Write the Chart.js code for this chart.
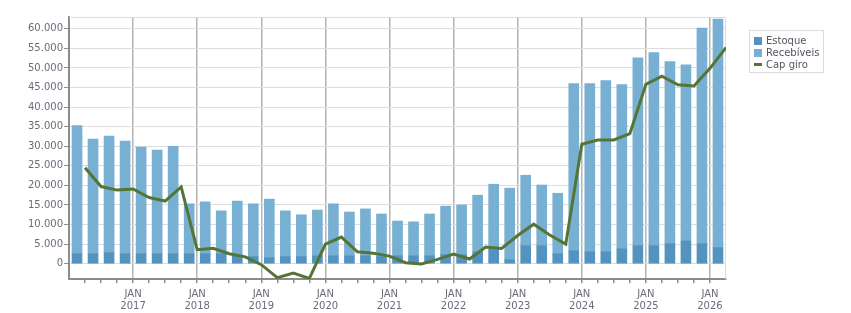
<!DOCTYPE html>
<html>
<head>
<meta charset="utf-8">
<script src="https://cdn.jsdelivr.net/npm/chart.js@4"></script>
<style>
  html, body { margin: 0; padding: 0; background: #fff; }
  #wrap { position: relative; width: 851px; height: 313px; }
  #legenda {
    position: absolute; left: 749px; top: 30px; width: 73px; height: 41px;
    border: 1px solid #dcdcdc; font: 10px "DejaVu Sans", sans-serif; color: #555560;
  }
  #legenda div { position: absolute; left: 4px; height: 12px; line-height: 12px; white-space: nowrap; }
  #legenda span { display: inline-block; width: 8px; height: 8px; margin-right: 4px; vertical-align: -1px; }
  #legenda span.linha { height: 3px; vertical-align: 2px; }
</style>
</head>
<body>
<div id="wrap">
  <canvas id="capGiroChart" width="851" height="313"></canvas>
  <div id="legenda">
    <div style="top:4px"><span style="background:#5492bf"></span>Estoque</div>
    <div style="top:16px"><span style="background:#77b0d2"></span>Recebíveis</div>
    <div style="top:28px"><span class="linha" style="background:#557536"></span>Cap giro</div>
  </div>
</div>
<script>
// Trimestres: 1T2016 ... 1T2026
var primeiroAno = 2016;
var trimestres = [];
for (var i = 0; i < 41; i++) {
  trimestres.push((i % 4 + 1) + 'T' + (primeiroAno + Math.floor(i / 4)));
}

var estoque = [2600, 2550, 2800, 2550, 2550, 2550, 2550, 2550, 2550, 2550,
  2000, 1800, 1500, 1800, 1800, 2000, 2000, 2000, 2000, 1800,
  2000, 2000, 2000, 2300, 2300, 3000, 3800, 1000, 4600, 4600,
  2550, 3300, 3050, 3050, 3800, 4600, 4600, 5100, 5800, 5100, 4100];

var recebiveis = [32700, 29250, 29800, 28750, 27250, 26450, 27450, 12750, 13250, 10950,
  14000, 13500, 15000, 11700, 10700, 11700, 13300, 11200, 12000, 10900,
  8900, 8700, 10700, 12400, 12700, 14500, 16500, 18300, 18000, 15500,
  15450, 42700, 42950, 43700, 41950, 48000, 49300, 46500, 45000, 55100, 58400];

var capGiro = [24500, 19700, 18800, 19100, 16900, 16000, 19600, 3600, 3950, 2550,
  1750, -250, -3550, -2400, -3750, 5000, 6800, 3050, 2700, 1950,
  250, -50, 1100, 2450, 1200, 4250, 3900, 7200, 10100, 7350,
  5000, 30500, 31600, 31600, 33200, 45800, 47900, 45700, 45400, 49900, 55200];

var yTicks = [0, 5000, 10000, 15000, 20000, 25000, 30000, 35000, 40000, 45000, 50000, 55000, 60000];
var yMin = -3900;
var yMax = 63000;

// barras no meio do trimestre, linha no fim do trimestre
var estoquePts = estoque.map(function (v, i) { return { x: i, y: v }; });
var recebiveisPts = recebiveis.map(function (v, i) { return { x: i, y: v }; });
var capGiroPts = capGiro.map(function (v, i) { return { x: i + 0.5, y: v }; });

function ehAno(v) { return Math.abs(((v - 3.5) % 4)) < 0.01; }

var fonte = { family: 'DejaVu Sans', size: 10, lineHeight: 1.25 };
var corTexto = '#6b6b7b';

var moldura = {
  id: 'moldura',
  beforeDatasetsDraw: function (chart) {
    var a = chart.chartArea, ctx = chart.ctx;
    ctx.save();
    ctx.strokeStyle = '#dcdcdc';
    ctx.lineWidth = 1;
    ctx.beginPath();
    ctx.moveTo(a.left, a.top + 0.5);
    ctx.lineTo(a.right - 0.5, a.top + 0.5);
    ctx.lineTo(a.right - 0.5, a.bottom);
    ctx.stroke();
    ctx.restore();
  }
};

var ctx = document.getElementById('capGiroChart').getContext('2d');
var chart = new Chart(ctx, {
  data: {
    datasets: [{
      type: 'line',
      label: 'Cap giro',
      data: capGiroPts,
      borderColor: '#557536',
      borderWidth: 3,
      pointRadius: 0,
      tension: 0,
      stack: 'linha',
      order: 0
    }, {
      type: 'bar',
      label: 'Estoque',
      data: estoquePts,
      backgroundColor: '#5492bf',
      barThickness: 10,
      stack: 'barras',
      order: 1
    }, {
      type: 'bar',
      label: 'Recebíveis',
      data: recebiveisPts,
      backgroundColor: '#77b0d2',
      barThickness: 10,
      stack: 'barras',
      order: 1
    }]
  },
  plugins: [moldura],
  options: {
    responsive: false,
    animation: false,
    layout: { padding: { left: 0, right: 125, top: 17, bottom: 0 } },
    plugins: { legend: { display: false }, tooltip: { enabled: false } },
    scales: {
      x: {
        type: 'linear',
        stacked: true,
        offset: false,
        min: -0.5,
        max: 40.5,
        afterBuildTicks: function (scale) {
          var t = [];
          for (var i = 0; i < 40; i++) t.push({ value: i + 0.5 });
          scale.ticks = t;
        },
        afterFit: function (scale) { scale.height = 34; },
        ticks: {
          autoSkip: false,
          maxRotation: 0,
          padding: 5,
          color: corTexto,
          font: fonte,
          callback: function (v) {
            if (!ehAno(v)) return '';
            return ['JAN', String(primeiroAno + (v + 0.5) / 4)];
          }
        },
        grid: {
          offset: false,
          color: function (c) { return c.tick && ehAno(c.tick.value) ? '#b4b4b4' : 'rgba(0,0,0,0)'; },
          tickColor: '#8c8c8c',
          tickLength: 4,
          lineWidth: 1.5
        },
        border: { color: '#8c8c8c', width: 2 }
      },
      y: {
        stacked: true,
        min: yMin,
        max: yMax,
        afterBuildTicks: function (scale) {
          scale.ticks = yTicks.map(function (v) { return { value: v }; });
        },
        afterFit: function (scale) { scale.width = 69; },
        ticks: {
          color: corTexto,
          font: fonte,
          padding: 1,
          callback: function (v) { return v.toLocaleString('pt-BR'); }
        },
        grid: { color: '#dcdcdc', tickColor: '#8c8c8c', tickLength: 5 },
        border: { color: '#8c8c8c', width: 2 }
      }
    }
  }
});
</script>
</body>
</html>
